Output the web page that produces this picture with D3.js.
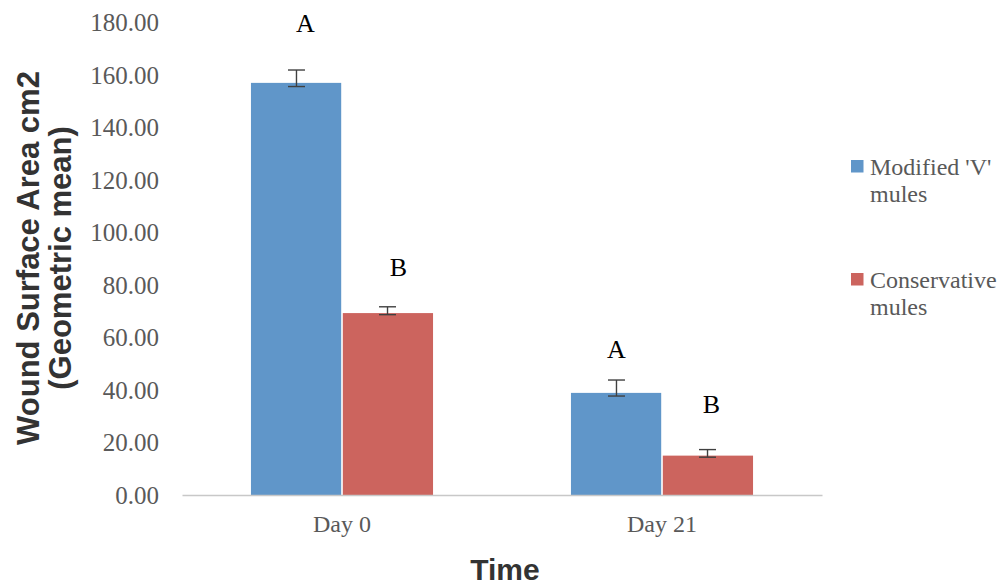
<!DOCTYPE html>
<html>
<head>
<meta charset="utf-8">
<script src="https://cdn.jsdelivr.net/npm/d3@7"></script>
<style>
  body { margin: 0; background: #fff; }
  svg { display: block; }
</style>
</head>
<body>
<div id="chart"></div>
<script>
var categories = ["Day 0", "Day 21"];
var series = ["Modified 'V' mules", "Conservative mules"];
var legendLines = [["Modified 'V'", "mules"], ["Conservative", "mules"]];
var modifiedValues = [157.0, 38.9];
var modifiedLow = [155.6, 37.7];
var modifiedHigh = [161.9, 43.8];
var conservativeValues = [69.3, 15.0];
var conservativeLow = [68.7, 14.4];
var conservativeHigh = [71.7, 17.3];
var letters = [["A", "B"], ["A", "B"]];
var letterLevels = [[180, 87], [55.6, 34.6]];
var yTicks = [0, 20, 40, 60, 80, 100, 120, 140, 160, 180];

var width = 1006;
var height = 586;
var colors = ["#6096c9", "#cc645e"];

var rows = categories.map(function(c, i) {
  return {
    cat: c,
    bars: [
      { s: 0, v: modifiedValues[i], lo: modifiedLow[i], hi: modifiedHigh[i], letter: letters[i][0], ly: letterLevels[i][0] },
      { s: 1, v: conservativeValues[i], lo: conservativeLow[i], hi: conservativeHigh[i], letter: letters[i][1], ly: letterLevels[i][1] }
    ]
  };
});

var svg = d3.select("#chart")
  .append("svg")
  .attr("width", width)
  .attr("height", height);

var x = d3.scaleBand()
  .domain(categories)
  .range([182, 822])
  .paddingInner(0.431)
  .paddingOuter(0.2155);

var xs = d3.scaleBand()
  .domain([0, 1])
  .range([0, x.bandwidth()]);

var y = d3.scaleLinear()
  .domain([0, 180])
  .range([495, 22.5]);

// y tick labels (no axis line)
svg.append("g")
  .selectAll("text")
  .data(yTicks)
  .enter()
  .append("text")
  .attr("x", 159)
  .attr("y", function(d) { return y(d); })
  .attr("dy", "0.35em")
  .attr("text-anchor", "end")
  .style("font-family", "'Liberation Serif', serif")
  .style("font-size", "25px")
  .style("fill", "#595959")
  .text(function(d) { return d.toFixed(2); });

// bars
var groups = svg.selectAll(".grp")
  .data(rows)
  .enter()
  .append("g")
  .attr("class", "grp")
  .attr("transform", function(d) { return "translate(" + x(d.cat) + ",0)"; });

groups.selectAll("rect")
  .data(function(d) { return d.bars; })
  .enter()
  .append("rect")
  .attr("x", function(d) { return xs(d.s) + (d.s === 1 ? 0.8 : 0); })
  .attr("width", xs.bandwidth() - 0.8)
  .attr("y", function(d) { return y(d.v); })
  .attr("height", function(d) { return y(0) - y(d.v); })
  .attr("fill", function(d) { return colors[d.s]; });

// error bars
var err = groups.selectAll(".err")
  .data(function(d) { return d.bars; })
  .enter()
  .append("g")
  .attr("class", "err")
  .attr("stroke", "#404040")
  .attr("stroke-width", 1.4);

err.append("line")
  .attr("x1", function(d) { return xs(d.s) + xs.bandwidth() / 2; })
  .attr("x2", function(d) { return xs(d.s) + xs.bandwidth() / 2; })
  .attr("y1", function(d) { return y(d.hi); })
  .attr("y2", function(d) { return y(d.lo); });

err.selectAll(".cap")
  .data(function(d) { return [[d, d.hi], [d, d.lo]]; })
  .enter()
  .append("line")
  .attr("x1", function(p) { return xs(p[0].s) + xs.bandwidth() / 2 - 8.5; })
  .attr("x2", function(p) { return xs(p[0].s) + xs.bandwidth() / 2 + 8.5; })
  .attr("y1", function(p) { return y(p[1]); })
  .attr("y2", function(p) { return y(p[1]); });

// significance letters
groups.selectAll(".letter")
  .data(function(d) { return d.bars; })
  .enter()
  .append("text")
  .attr("class", "letter")
  .attr("x", function(d, i) {
    var shift = [[9, 11], [0, 4]];
    var ci = categories.indexOf(d3.select(this.parentNode).datum().cat);
    return xs(d.s) + xs.bandwidth() / 2 + shift[ci][d.s];
  })
  .attr("y", function(d) { return y(d.ly); })
  .attr("dy", "0.35em")
  .attr("text-anchor", "middle")
  .style("font-family", "'Liberation Serif', serif")
  .style("font-size", "26px")
  .style("fill", "#000")
  .text(function(d) { return d.letter; });

// x axis
var xAxis = svg.append("g")
  .attr("transform", "translate(0," + y(0) + ")")
  .call(d3.axisBottom(x).tickSize(0).tickPadding(20));
xAxis.select(".domain").attr("stroke", "#c8c8c8").attr("stroke-width", 1.3);
xAxis.selectAll("text")
  .style("font-family", "'Liberation Serif', serif")
  .style("font-size", "24px")
  .style("fill", "#595959");

// axis titles
svg.append("text")
  .attr("x", 505)
  .attr("y", 580)
  .attr("text-anchor", "middle")
  .style("font-family", "'Liberation Sans', Arial, sans-serif")
  .style("font-weight", "bold")
  .style("font-size", "30px")
  .style("fill", "#333")
  .text("Time");

var yTitle = svg.append("text")
  .attr("transform", "translate(0,258) rotate(-90)")
  .attr("text-anchor", "middle")
  .style("font-family", "'Liberation Sans', Arial, sans-serif")
  .style("font-weight", "bold")
  .style("font-size", "31px")
  .style("fill", "#333");
yTitle.append("tspan").attr("x", 0).attr("y", 39).text("Wound Surface Area cm2");
yTitle.append("tspan").attr("x", 0).attr("y", 71).text("(Geometric mean)");

// legend
var legend = svg.selectAll(".leg")
  .data(series)
  .enter()
  .append("g")
  .attr("class", "leg")
  .attr("transform", function(d, i) { return "translate(851," + (160 + i * 113) + ")"; });

legend.append("rect")
  .attr("width", 12.5)
  .attr("height", 12.5)
  .attr("fill", function(d, i) { return colors[i]; });

legend.append("text")
  .style("font-family", "'Liberation Serif', serif")
  .style("font-size", "24px")
  .style("fill", "#595959")
  .each(function(d, i) {
    var t = d3.select(this);
    legendLines[i].forEach(function(line, j) {
      t.append("tspan").attr("x", 19).attr("y", 15 + j * 27).text(line);
    });
  });
</script>
</body>
</html>
